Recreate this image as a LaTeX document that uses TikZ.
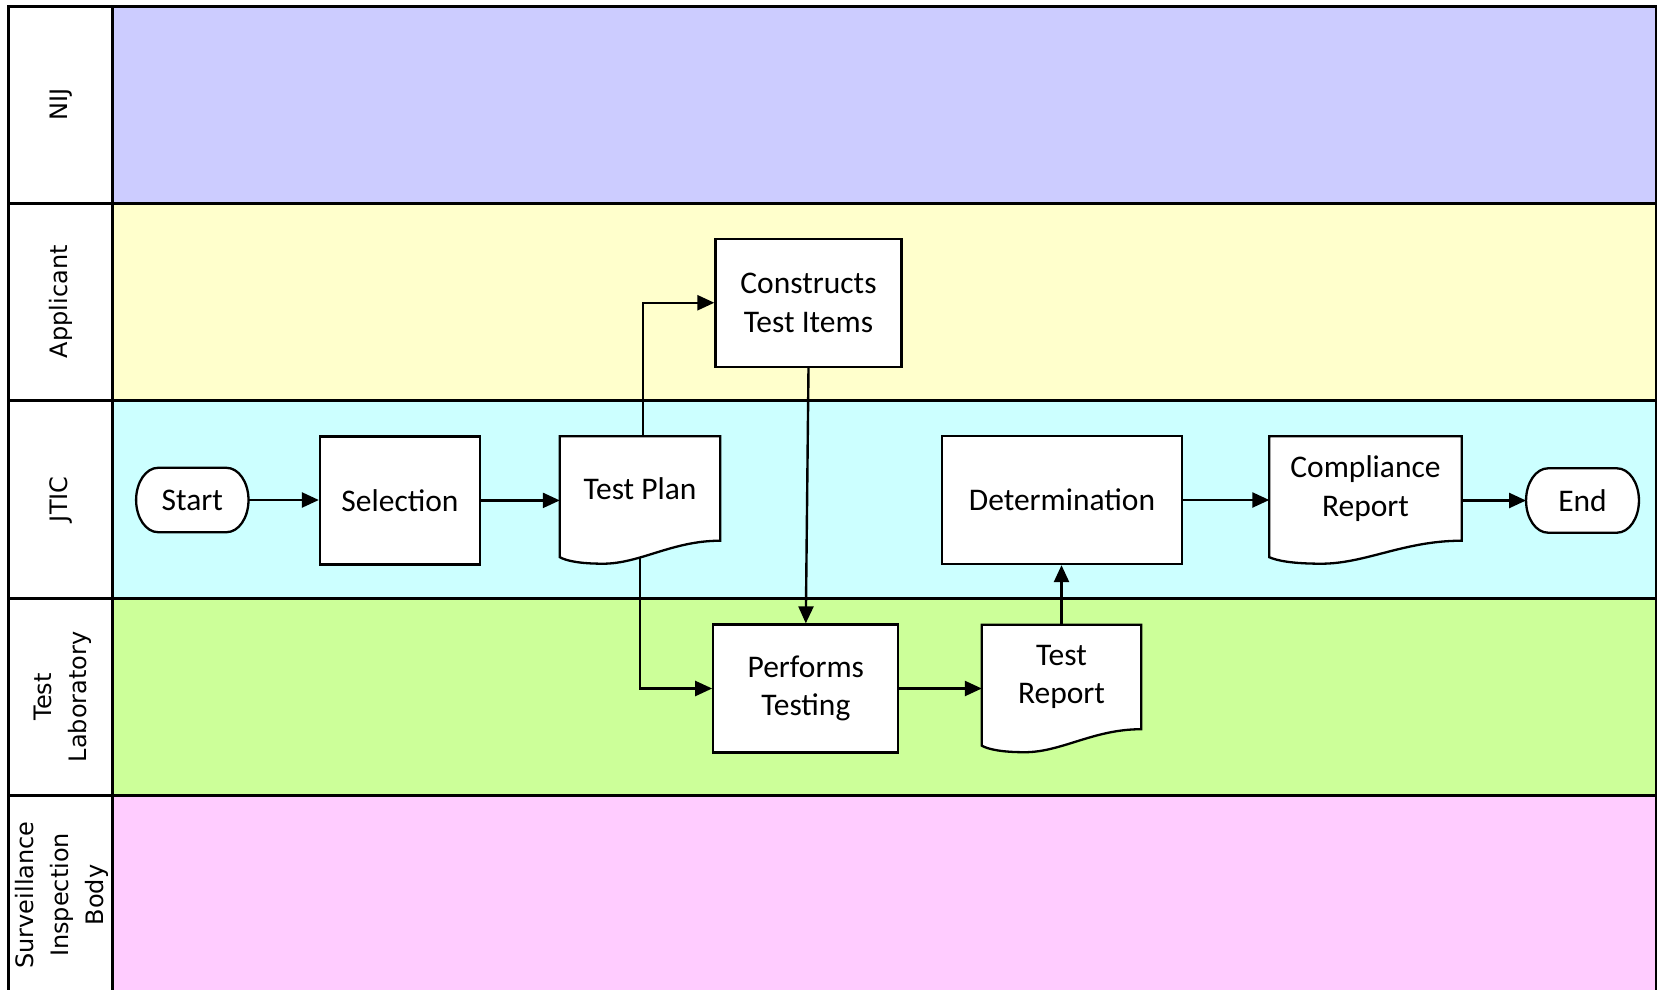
\documentclass[tikz,border=0pt]{standalone}
\usepackage{fontspec}
\setmainfont{Carlito}
\newfontfamily\hdrfont{DejaVu Sans}
\usetikzlibrary{arrows.meta,calc}
\definecolor{nijc}{HTML}{CCCCFF}
\definecolor{applc}{HTML}{FFFFCC}
\definecolor{jticc}{HTML}{CCFFFF}
\definecolor{tlabc}{HTML}{CCFF99}
\definecolor{survc}{HTML}{FFCCFF}
\pgfdeclarelayer{lanes}
\pgfdeclarelayer{edges}
\pgfdeclarelayer{docs}
\pgfsetlayers{lanes,edges,docs,main}
\tikzset{
  laneline/.style={draw=black, line width=3pt},
  hdr/.style={rotate=90, align=center, inner sep=0pt, font=\hdrfont\fontsize{24pt}{35pt}\selectfont},
  txt/.style={align=center, inner sep=0pt, font=\fontsize{31.5pt}{38.5pt}\selectfont},
  proc/.style={txt, draw=black, line width=2.3pt, fill=white},
  plain/.style={txt},
  box/.style={draw=black, line width=2.3pt, fill=white},
  conn/.style={line width=2.4pt, -{Triangle[length=17pt,width=15pt]}}
}
\newcommand\docoutline[1]{%
  \path[box] let \p1=(#1.north west), \p2=(#1.south east) in
  (\x1,\y1) -- (\x2,\y1) -- (\x2,\y2)
  .. controls ({\x2-0.3*(\x2-\x1)},\y2) and ({\x1+0.5*(\x2-\x1)},{\y2-23pt}) .. ({\x1+0.27*(\x2-\x1)},{\y2-23pt})
  .. controls ({\x1+0.12*(\x2-\x1)},{\y2-23pt}) and ({\x1+0.04*(\x2-\x1)},{\y2-20pt}) .. (\x1,{\y2-16.5pt}) -- cycle;}
\newcommand\termoutline[1]{%
  \path[box] let \p1=(#1.north west), \p2=(#1.south east), \n1={(\y1-\y2)/2} in
  ({\x1+22pt},\y1) -- ({\x2-22pt},\y1)
  .. controls ({\x2-9.85pt},\y1) and (\x2,{\y1-\n1*0.4477}) .. (\x2,{\y1-\n1})
  .. controls (\x2,{\y2+\n1*0.4477}) and ({\x2-9.85pt},\y2) .. ({\x2-22pt},\y2)
  -- ({\x1+22pt},\y2)
  .. controls ({\x1+9.85pt},\y2) and (\x1,{\y2+\n1*0.4477}) .. (\x1,{\y2+\n1})
  .. controls (\x1,{\y1-\n1*0.4477}) and ({\x1+9.85pt},\y1) .. ({\x1+22pt},\y1) -- cycle;}
\begin{document}
\begin{tikzpicture}[x=1pt,y=-1pt]
\useasboundingbox (0,0) rectangle (1657,990);
\begin{pgfonlayer}{lanes}
\foreach \t/\b/\c in {6.5/203/nijc, 203/400.5/applc, 400.5/598/jticc, 598/795.5/tlabc, 795.5/993/survc}{
  \draw[laneline, fill=white] (8.5,\t) rectangle (112,\b);
  \draw[laneline, fill=\c] (112,\t) rectangle (1656,\b);
}
\end{pgfonlayer}
% lane headers
\node[hdr] (hnij) at (61,104.75) {NIJ};
\node[hdr] (happ) at (61,301.75) {Applicant};
\node[hdr] (hjtic) at (61,499.25) {JTIC};
\node[hdr] (hlab) at (62.5,696.75) {Test\\Laboratory};
\node[hdr] (hsurv) at (62,895) {Surveillance\\Inspection\\Body};
% nodes
\node[plain, minimum width=112pt, minimum height=64pt] (start) at (192.3,500) {Start};
\node[proc, minimum width=160pt, minimum height=128pt] (sel) at (400,500.4) {Selection};
\node[plain, minimum width=160pt, minimum height=104pt] (tp) at (640,488.5) {Test Plan};
\node[proc, minimum width=186pt, minimum height=128pt] (ct) at (808.5,302.75) {Constructs\\Test Items};
\node[proc, minimum width=185pt, minimum height=128pt] (perf) at (805.8,688.5) {Performs\\Testing};
\node[plain, minimum width=159pt, minimum height=104pt] (tr) at (1061.5,677) {Test\\Report};
\node[proc, minimum width=240pt, minimum height=128pt] (det) at (1062,500) {Determination};
\node[plain, minimum width=192pt, minimum height=104pt] (cr) at (1365.5,488.5) {Compliance\\Report};
\node[plain, minimum width=112.5pt, minimum height=64pt] (end) at (1582.5,500.5) {End};
\begin{pgfonlayer}{edges}
\draw[conn] (start.east) -- (start.east -| sel.west);
\draw[conn] (sel.east) -- (sel.east -| tp.west);
\draw[conn] ([xshift=3pt]tp.center) |- (ct.west);
\draw[conn] (tp.center) |- (perf.west);
\draw[conn] (ct.south) -- (perf.north);
\draw[conn] (perf.east) -- (perf.east -| tr.west);
\draw[conn] (tr.center) -- (tr.center |- det.south);
\draw[conn] (det.east) -- (det.east -| cr.west);
\draw[conn] (end.west -| cr.east) -- (end.west);
\end{pgfonlayer}
\begin{pgfonlayer}{docs}
\termoutline{start}
\termoutline{end}
\docoutline{tp}
\docoutline{tr}
\docoutline{cr}
\end{pgfonlayer}
\end{tikzpicture}
\end{document}
